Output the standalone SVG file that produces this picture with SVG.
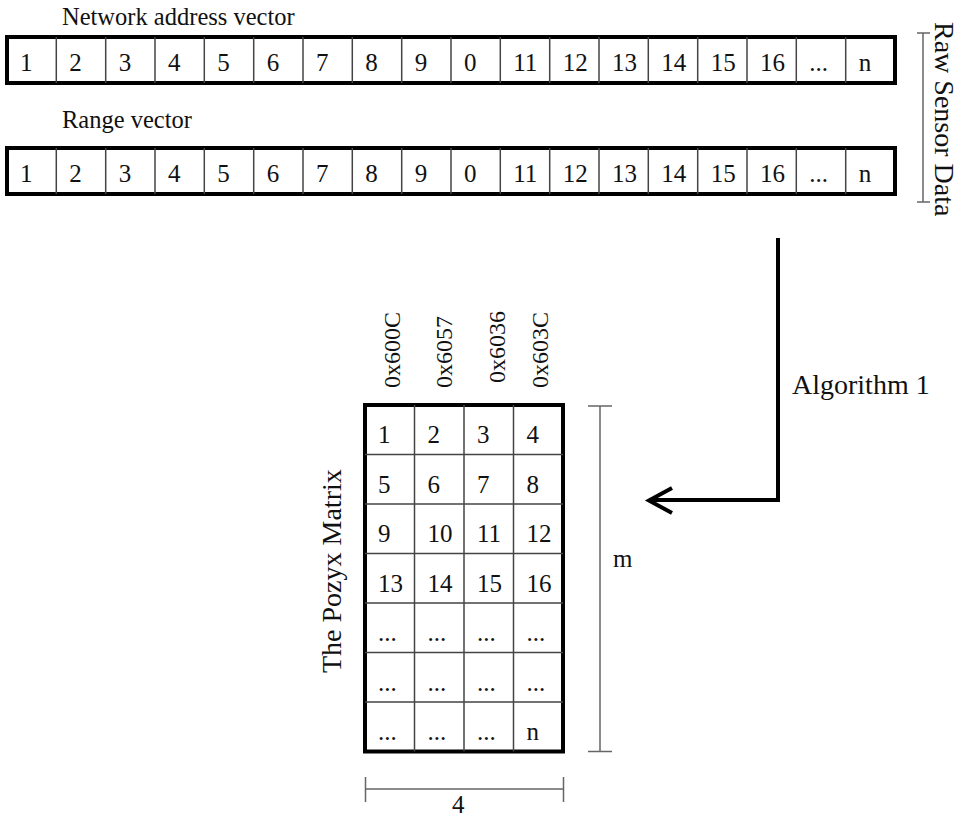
<svg xmlns="http://www.w3.org/2000/svg" width="964" height="817" viewBox="0 0 964 817">
<style>
text{font-family:"Liberation Serif","Times New Roman",serif;fill:#111}
.d{font-size:25px}
.h{font-size:24px}
.lb{font-size:24.5px}
.big{font-size:28px}
.frame{fill:none;stroke:#000;stroke-width:4}
.grid{stroke:#444;stroke-width:1.5;fill:none}
.dim{stroke:#666;stroke-width:1.5;fill:none}
.conn{stroke:#000;stroke-width:4;fill:none;stroke-linejoin:miter}
</style>
<rect width="964" height="817" fill="#fff"/>

<g id="network-vector">
<text class="lb" x="62" y="25">Network address vector</text>
<rect class="frame" x="7" y="37" width="888" height="46"/>
<path class="grid" d="M56.3 37V83M105.7 37V83M155 37V83M204.3 37V83M253.7 37V83M303 37V83M352.3 37V83M401.7 37V83M451 37V83M500.3 37V83M549.7 37V83M599 37V83M648.3 37V83M697.7 37V83M747 37V83M796.3 37V83M845.7 37V83"/>
<g class="d">
<text x="20" y="71">1</text><text x="69.3" y="71">2</text><text x="118.7" y="71">3</text><text x="168" y="71">4</text><text x="217.3" y="71">5</text><text x="266.7" y="71">6</text><text x="316" y="71">7</text><text x="365.3" y="71">8</text><text x="414.7" y="71">9</text><text x="464" y="71">0</text><text x="513.3" y="71">11</text><text x="562.7" y="71">12</text><text x="612" y="71">13</text><text x="661.3" y="71">14</text><text x="710.7" y="71">15</text><text x="760" y="71">16</text><text x="809.3" y="71">...</text><text x="858.7" y="71">n</text>
</g>
</g>

<g id="range-vector">
<text class="lb" x="62" y="128">Range vector</text>
<rect class="frame" x="7" y="148" width="888" height="46"/>
<path class="grid" d="M56.3 148V194M105.7 148V194M155 148V194M204.3 148V194M253.7 148V194M303 148V194M352.3 148V194M401.7 148V194M451 148V194M500.3 148V194M549.7 148V194M599 148V194M648.3 148V194M697.7 148V194M747 148V194M796.3 148V194M845.7 148V194"/>
<g class="d">
<text x="20" y="182">1</text><text x="69.3" y="182">2</text><text x="118.7" y="182">3</text><text x="168" y="182">4</text><text x="217.3" y="182">5</text><text x="266.7" y="182">6</text><text x="316" y="182">7</text><text x="365.3" y="182">8</text><text x="414.7" y="182">9</text><text x="464" y="182">0</text><text x="513.3" y="182">11</text><text x="562.7" y="182">12</text><text x="612" y="182">13</text><text x="661.3" y="182">14</text><text x="710.7" y="182">15</text><text x="760" y="182">16</text><text x="809.3" y="182">...</text><text x="858.7" y="182">n</text>
</g>
</g>

<g id="raw-sensor-data">
<path class="dim" d="M917 33H930M923 33V202M917 202H930"/>
<text class="big" transform="translate(935 22) rotate(90)">Raw Sensor Data</text>
</g>

<g id="pozyx-matrix">
<text class="big" transform="translate(341 673) rotate(-90)">The Pozyx Matrix</text>
<g class="h">
<text transform="translate(400 388) rotate(-90)">0x600C</text>
<text transform="translate(452 388) rotate(-90)">0x6057</text>
<text transform="translate(505 383) rotate(-90)">0x6036</text>
<text transform="translate(548 388) rotate(-90)">0x603C</text>
</g>
<rect class="frame" x="365" y="405" width="198" height="346.5"/>
<path class="grid" d="M414.5 405V751.5M464 405V751.5M513.5 405V751.5M365 454.5H563M365 504H563M365 553.5H563M365 603H563M365 652.5H563M365 702H563"/>
<g class="d">
<text x="378" y="443">1</text><text x="427.5" y="443">2</text><text x="477" y="443">3</text><text x="526.5" y="443">4</text>
<text x="378" y="492.5">5</text><text x="427.5" y="492.5">6</text><text x="477" y="492.5">7</text><text x="526.5" y="492.5">8</text>
<text x="378" y="542">9</text><text x="427.5" y="542">10</text><text x="477" y="542">11</text><text x="526.5" y="542">12</text>
<text x="378" y="591.5">13</text><text x="427.5" y="591.5">14</text><text x="477" y="591.5">15</text><text x="526.5" y="591.5">16</text>
<text x="378" y="641">...</text><text x="427.5" y="641">...</text><text x="477" y="641">...</text><text x="526.5" y="641">...</text>
<text x="378" y="690.5">...</text><text x="427.5" y="690.5">...</text><text x="477" y="690.5">...</text><text x="526.5" y="690.5">...</text>
<text x="378" y="740">...</text><text x="427.5" y="740">...</text><text x="477" y="740">...</text><text x="526.5" y="740">n</text>
</g>
</g>

<g id="dim-m">
<path class="dim" d="M588 406H612M600 406V751.5M588 751.5H612"/>
<text class="d" x="613" y="567">m</text>
</g>

<g id="dim-4">
<path class="dim" d="M365.5 777V802M365.5 789H563.5M563.5 777V802"/>
<text class="d" x="452" y="813">4</text>
</g>

<g id="connectors">
<path class="conn" d="M778 238V500H649"/>
<path class="conn" d="M672 488L649 500.5L672 513"/>
<text class="big" x="792" y="394">Algorithm 1</text>
</g>
</svg>
